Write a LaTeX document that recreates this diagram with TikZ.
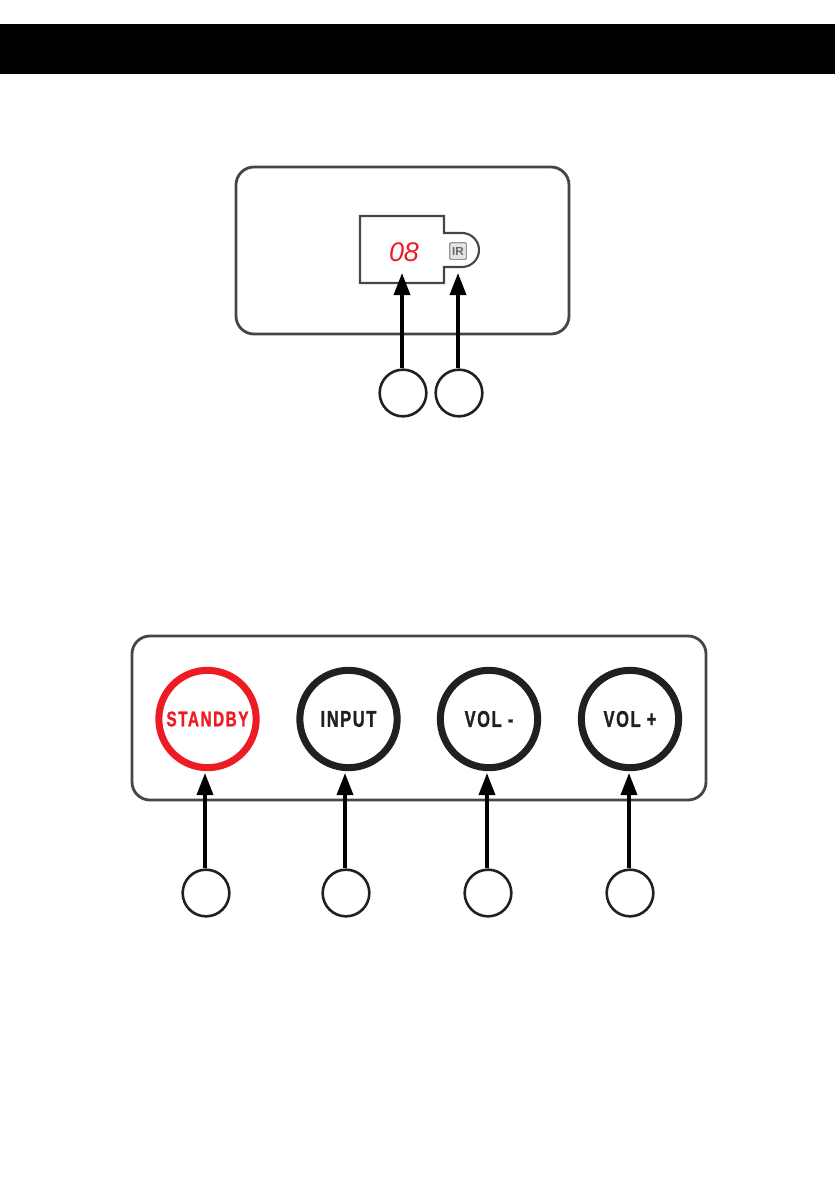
\documentclass[tikz,border=0pt]{standalone}
\usepackage{xcolor}
\usepackage{fontspec}
\usepackage{tikz}
\usetikzlibrary{arrows.meta, positioning}
\setmainfont{Liberation Sans}
\newfontfamily\btnfont[FakeStretch=0.72,LetterSpace=7,FakeBold=1.2]{Liberation Sans Bold}
\definecolor{myred}{RGB}{237,28,36}
\definecolor{mydark}{RGB}{35,31,32}
\definecolor{myline}{RGB}{70,70,70}
\definecolor{mygrey}{RGB}{150,150,150}
\tikzset{
  panel/.style={rectangle, draw=myline, rounded corners=0.54cm, line width=2.4pt, inner sep=0pt},
  button/.style={circle, draw=mydark, line width=6pt, minimum size=2.92cm, inner sep=0pt,
    text=mydark, font=\btnfont\fontsize{19.5}{20}\selectfont},
  redbutton/.style={button, draw=myred, text=myred, font=\btnfont\fontsize{18.2}{20}\selectfont},
  number/.style={circle, draw=mydark, line width=2.2pt, minimum size=1.4cm, inner sep=0pt},
  arrow/.style={{Triangle[length=0.66cm, width=0.48cm]}-, line width=3pt, color=black}
}
\begin{document}
\begin{tikzpicture}[x=0.03cm, y=-0.03cm]
  \useasboundingbox (0,0) rectangle (835,1195);
  % header bar
  \node (header) [rectangle, fill=black, minimum width=25.05cm, minimum height=1.5cm, inner sep=0pt] at (417.5,49) {};

  % display panel
  \node (toppanel) [panel, minimum width=9.99cm, minimum height=5.01cm] at (402.5,250.5) {};
  \draw[myline, line width=1.8pt, line join=miter] (444,233) -- (444,216) -- (360,216) -- (360,283) -- (444,283) -- (444,267)
    -- (462,267) arc (90:-90:17) -- cycle;
  \node (digits) [text=myred, font=\fontsize{23}{24}\selectfont\itshape, inner sep=0pt] at (404,252) {08};
  \node (ir) [rectangle, rounded corners=1pt, draw=mygrey, fill=mygrey!25, line width=1pt, text=mygrey!70!black,
    minimum size=0.5cm, inner sep=0pt, font=\fontsize{10}{10}\selectfont\bfseries] at (458,251) {IR};

  \node (numa) [number] at (403,393) {};
  \node (numb) [number] at (459,393) {};
  \coordinate (tipa) at (402,273);
  \coordinate (tipb) at (458,273);
  \draw [arrow] (tipa) -- (tipa |- numa.north);
  \draw [arrow] (tipb) -- (tipb |- numb.north);

  % button panel
  \node (botpanel) [panel, minimum width=17.22cm, minimum height=4.92cm] at (419,718) {};
  \node (standby) [redbutton] at (207.5,719) {STANDBY};
  \node (input) [button] at (348.5,719) {INPUT};
  \node (volminus) [button] at (489,719) {VOL -};
  \node (volplus) [button] at (630,719) {VOL +};

  \node (numc) [number] at (206,893) {};
  \node (numd) [number] at (346,893) {};
  \node (nume) [number] at (488,893) {};
  \node (numf) [number] at (630,893) {};
  \coordinate (tipc) at (205,773);
  \coordinate (tipd) at (345,773);
  \coordinate (tipe) at (487,773);
  \coordinate (tipf) at (629,773);
  \draw [arrow] (tipc) -- (tipc |- numc.north);
  \draw [arrow] (tipd) -- (tipd |- numd.north);
  \draw [arrow] (tipe) -- (tipe |- nume.north);
  \draw [arrow] (tipf) -- (tipf |- numf.north);
\end{tikzpicture}
\end{document}
